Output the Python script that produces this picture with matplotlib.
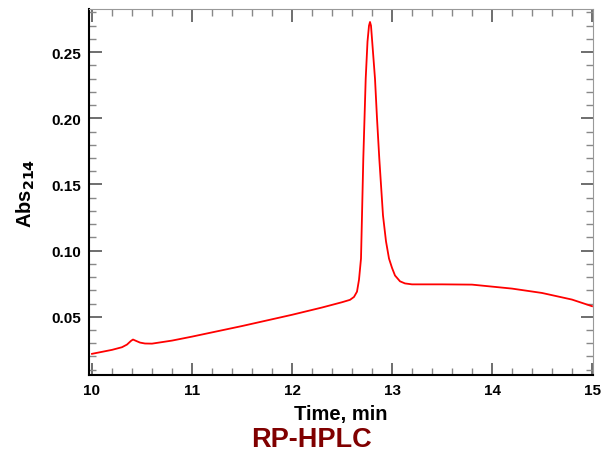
import numpy as np
import matplotlib
matplotlib.use("Agg")
from matplotlib import pyplot as plt
from matplotlib.ticker import MultipleLocator

plt.rcParams['font.family'] = ['Liberation Sans', 'DejaVu Sans']

# chromatogram (time in min, absorbance at 214 nm)
time_min = [10.0, 10.1, 10.2, 10.3, 10.35, 10.39, 10.41, 10.44, 10.48, 10.53, 10.6,
            10.8, 11.0, 11.5, 12.0, 12.3, 12.5, 12.58, 12.62, 12.65, 12.67,
            12.69, 12.70, 12.713, 12.737, 12.755, 12.77, 12.78, 12.79, 12.805,
            12.83, 12.85, 12.873, 12.91, 12.94, 12.97, 13.0, 13.03, 13.08,
            13.13, 13.2, 13.5, 13.8, 14.0, 14.2, 14.5, 14.8, 15.0]
abs_214 = [0.022, 0.0235, 0.025, 0.027, 0.029, 0.0318, 0.0328, 0.0318, 0.0305, 0.0298, 0.0297,
           0.032, 0.035, 0.043, 0.0515, 0.057, 0.061, 0.0628, 0.065, 0.069, 0.078,
           0.094, 0.1265, 0.1695, 0.2299, 0.258, 0.270, 0.2728, 0.270, 0.255,
           0.2299, 0.200, 0.1695, 0.1265, 0.107, 0.094, 0.087, 0.0812, 0.0768,
           0.0752, 0.0745, 0.0745, 0.0743, 0.0728, 0.0713, 0.068, 0.063, 0.058]

x_ticks = [10, 11, 12, 13, 14, 15]
y_ticks = [0.05, 0.10, 0.15, 0.20, 0.25]

fig = plt.figure(figsize=(6.08, 4.56), dpi=100)
ax = fig.add_axes([89/608, 1-376/456, (593-89)/608, (376-10)/456])

ax.plot(time_min, abs_214, color='#ff0000', lw=1.3)

ax.set_xlim(9.97, 15.01)
ax.set_ylim(0.006, 0.2826)
ax.set_xticks(x_ticks)
ax.set_yticks(y_ticks)
ax.set_yticklabels([f'{v:.2f}' for v in y_ticks])
ax.xaxis.set_minor_locator(MultipleLocator(0.2))
ax.yaxis.set_minor_locator(MultipleLocator(0.01))

ax.tick_params(which='both', direction='in', top=True, right=True, color='#555555')
ax.tick_params(which='major', length=9, width=1.2, labelsize=11, pad=6)
ax.tick_params(which='minor', length=5, width=1.0, color='#888888')
for lbl in ax.get_xticklabels() + ax.get_yticklabels():
    lbl.set_fontweight('heavy')

ax.spines['left'].set_color('black')
ax.spines['bottom'].set_color('black')
ax.spines['left'].set_linewidth(1.5)
ax.spines['bottom'].set_linewidth(1.5)
ax.spines['top'].set_color('#999999')
ax.spines['right'].set_color('#999999')

ax.set_xlabel('Time, min', fontsize=14.5, fontweight='bold', labelpad=5)
ax.set_ylabel('Abs$_{\\mathbf{214}}$', fontsize=14.5, fontweight='bold', labelpad=10)

fig.text(311/608, 1-440/456, 'RP-HPLC', color='#800000', fontsize=19.5,
         fontweight='bold', ha='center', va='center')

fig.savefig('out.png', dpi=100)
